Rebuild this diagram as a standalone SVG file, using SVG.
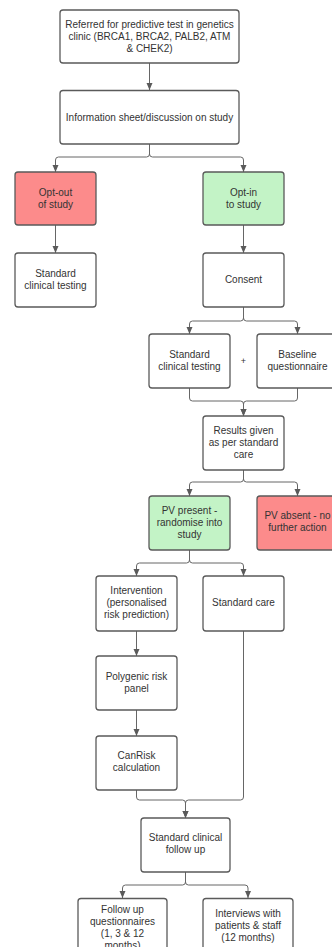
<svg xmlns="http://www.w3.org/2000/svg" width="332" height="947" viewBox="0 0 332 947">
<defs>
<style>
.box{fill:#ffffff;stroke:#5a5a5a;stroke-width:1.3}
.red{fill:#fc8b8b}
.green{fill:#c3f3c6}
.t{font-family:"Liberation Sans",Arial,sans-serif;font-size:10px;fill:#333333;text-anchor:middle}
.c{fill:none;stroke:#666666;stroke-width:1}
</style>
<marker id="ah" markerUnits="userSpaceOnUse" markerWidth="8" markerHeight="8" viewBox="0 0 8 8" refX="7" refY="4" orient="auto">
<path d="M0,1 L7,4 L0,7 Z" fill="#5a5a5a"/>
</marker>
</defs>
<rect width="332" height="947" fill="#ffffff"/>
<g id="connectors">
<path class="c" d="M149.5 63 V90" marker-end="url(#ah)"/>
<path class="c" d="M149.5 144 V154 Q149.5 157 146.5 157 H58.5 Q55.5 157 55.5 160 V172" marker-end="url(#ah)"/>
<path class="c" d="M149.5 144 V154 Q149.5 157 152.5 157 H240.5 Q243.5 157 243.5 160 V172" marker-end="url(#ah)"/>
<path class="c" d="M55.5 225 V253" marker-end="url(#ah)"/>
<path class="c" d="M243.5 225 V253" marker-end="url(#ah)"/>
<path class="c" d="M243.5 307 V318 Q243.5 321 240.5 321 H192.5 Q189.5 321 189.5 324 V334" marker-end="url(#ah)"/>
<path class="c" d="M243.5 307 V318 Q243.5 321 246.5 321 H294.5 Q297.5 321 297.5 324 V334" marker-end="url(#ah)"/>
<path class="c" d="M189.5 388 V398 Q189.5 401 192.5 401 H240.5 Q243.5 401 243.5 404 V416" marker-end="url(#ah)"/>
<path class="c" d="M297.5 388 V398 Q297.5 401 294.5 401 H246.5 Q243.5 401 243.5 404 V416" marker-end="url(#ah)"/>
<path class="c" d="M243.5 470 V479 Q243.5 482 240.5 482 H192.5 Q189.5 482 189.5 485 V496" marker-end="url(#ah)"/>
<path class="c" d="M243.5 470 V479 Q243.5 482 246.5 482 H294.5 Q297.5 482 297.5 485 V496" marker-end="url(#ah)"/>
<path class="c" d="M189.5 550 V560 Q189.5 563 186.5 563 H139.5 Q136.5 563 136.5 566 V576" marker-end="url(#ah)"/>
<path class="c" d="M189.5 550 V560 Q189.5 563 192.5 563 H240.5 Q243.5 563 243.5 566 V576" marker-end="url(#ah)"/>
<path class="c" d="M136.5 631 V656" marker-end="url(#ah)"/>
<path class="c" d="M136.5 710 V736" marker-end="url(#ah)"/>
<path class="c" d="M136.5 790 V797 Q136.5 800 139.5 800 H182.5 Q185.5 800 185.5 803 V818" marker-end="url(#ah)"/>
<path class="c" d="M243.5 631 V797 Q243.5 800 240.5 800 H188.5 Q185.5 800 185.5 803 V818" marker-end="url(#ah)"/>
<path class="c" d="M185.5 872 V882 Q185.5 885 182.5 885 H125.5 Q122.5 885 122.5 888 V898" marker-end="url(#ah)"/>
<path class="c" d="M185.5 872 V882 Q185.5 885 188.5 885 H245 Q248 885 248 888 V898" marker-end="url(#ah)"/>
</g>
<g id="referred">
<rect class="box" x="60" y="10" width="179" height="53" rx="3"/>
<text class="t" x="149.5" y="27.5">Referred for predictive test in genetics</text>
<text class="t" x="149.5" y="39.5">clinic (BRCA1, BRCA2, PALB2, ATM</text>
<text class="t" x="149.5" y="51.5">&amp; CHEK2)</text>
</g>
<g id="info">
<rect class="box" x="60" y="90.5" width="179" height="53.5" rx="3"/>
<text class="t" x="149.5" y="121">Information sheet/discussion on study</text>
</g>
<g id="optout">
<rect class="box red" x="15" y="172" width="81" height="53" rx="3"/>
<text class="t" x="55.5" y="195.5">Opt-out</text>
<text class="t" x="55.5" y="207.5">of study</text>
</g>
<g id="optin">
<rect class="box green" x="203" y="172" width="81" height="53" rx="3"/>
<text class="t" x="243.5" y="195.5">Opt-in</text>
<text class="t" x="243.5" y="207.5">to study</text>
</g>
<g id="std-testing-out">
<rect class="box" x="15" y="253" width="81" height="54" rx="3"/>
<text class="t" x="55.5" y="276.5">Standard</text>
<text class="t" x="55.5" y="288.5">clinical testing</text>
</g>
<g id="consent">
<rect class="box" x="203" y="253" width="81" height="54" rx="3"/>
<text class="t" x="243.5" y="282.5">Consent</text>
</g>
<g id="std-testing-in">
<rect class="box" x="149" y="334" width="81" height="54" rx="3"/>
<text class="t" x="189.5" y="357.5">Standard</text>
<text class="t" x="189.5" y="369.5">clinical testing</text>
</g>
<g id="plus">
<text class="t" x="243.5" y="364" style="font-size:9px">+</text>
</g>
<g id="baseline">
<rect class="box" x="257" y="334" width="81" height="54" rx="3"/>
<text class="t" x="297.5" y="357.5">Baseline</text>
<text class="t" x="297.5" y="369.5">questionnaire</text>
</g>
<g id="results">
<rect class="box" x="203" y="416" width="81" height="54" rx="3"/>
<text class="t" x="243.5" y="433.5">Results given</text>
<text class="t" x="243.5" y="445.5">as per standard</text>
<text class="t" x="243.5" y="457.5">care</text>
</g>
<g id="pv-present">
<rect class="box green" x="149" y="496" width="81" height="54" rx="3"/>
<text class="t" x="189.5" y="514">PV present -</text>
<text class="t" x="189.5" y="526">randomise into</text>
<text class="t" x="189.5" y="538">study</text>
</g>
<g id="pv-absent">
<rect class="box red" x="257" y="496" width="81" height="54" rx="3"/>
<text class="t" x="297.5" y="519">PV absent - no</text>
<text class="t" x="297.5" y="531">further action</text>
</g>
<g id="intervention">
<rect class="box" x="96" y="576" width="81" height="55" rx="3"/>
<text class="t" x="136.5" y="594">Intervention</text>
<text class="t" x="136.5" y="606">(personalised</text>
<text class="t" x="136.5" y="618">risk prediction)</text>
</g>
<g id="standard-care">
<rect class="box" x="203" y="576" width="81" height="55" rx="3"/>
<text class="t" x="243.5" y="606">Standard care</text>
</g>
<g id="polygenic">
<rect class="box" x="96" y="656" width="81" height="54" rx="3"/>
<text class="t" x="136.5" y="679.5">Polygenic risk</text>
<text class="t" x="136.5" y="691.5">panel</text>
</g>
<g id="canrisk">
<rect class="box" x="96" y="736" width="81" height="54" rx="3"/>
<text class="t" x="136.5" y="759">CanRisk</text>
<text class="t" x="136.5" y="771">calculation</text>
</g>
<g id="followup">
<rect class="box" x="141" y="818" width="89" height="54" rx="3"/>
<text class="t" x="185.5" y="841">Standard clinical</text>
<text class="t" x="185.5" y="853">follow up</text>
</g>
<g id="questionnaires">
<rect class="box" x="78" y="898.5" width="89" height="54" rx="3"/>
<text class="t" x="122.5" y="912.5">Follow up</text>
<text class="t" x="122.5" y="924.5">questionnaires</text>
<text class="t" x="122.5" y="936.5">(1, 3 &amp; 12</text>
<text class="t" x="122.5" y="948.5">months)</text>
</g>
<g id="interviews">
<rect class="box" x="203" y="898.5" width="90" height="54" rx="3"/>
<text class="t" x="248" y="916.5">Interviews with</text>
<text class="t" x="248" y="928.5">patients &amp; staff</text>
<text class="t" x="248" y="940.5">(12 months)</text>
</g>
</svg>
